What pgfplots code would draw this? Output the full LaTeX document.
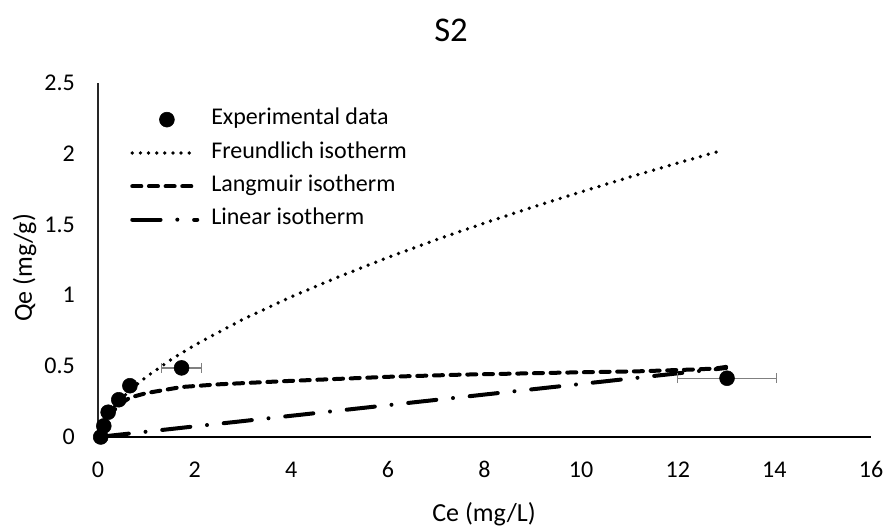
\documentclass[border=0pt]{standalone}
\usepackage{fontspec}
\setmainfont{Carlito}
\usepackage{pgfplots}
\pgfplotsset{compat=1.18}

\definecolor{errgray}{HTML}{808080}

% legend samples: a 48.75pt stroke for the fits, a single mark for the data
\pgfplotsset{
  linelegend/.style={legend image code/.code={\draw[##1] (0pt,0pt) -- (48.75pt,0pt);}},
  marklegend/.style={legend image code/.code={\draw[##1] plot coordinates {(26pt,0pt)};}},
}

\begin{document}
\begin{tikzpicture}
\path[use as bounding box] (0,0) rectangle (664.5pt,395.25pt);

% chart title and axis titles
\node[font=\fontsize{26}{30}\selectfont, anchor=base] at (338.25pt,363.75pt) {S2};
\node[font=\fontsize{19.5}{23}\selectfont, anchor=base] at (363pt,3.9pt) {Ce (mg/L)};
\node[font=\fontsize{19.5}{23}\selectfont, anchor=base, rotate=90] at (24pt,194.25pt) {Qe (mg/g)};

\begin{axis}[
  at={(73.5pt,67.5pt)}, anchor=south west,
  scale only axis, width=579.75pt, height=265.5pt,
  xmin=0, xmax=16, ymin=0, ymax=2.5,
  xtick={0,2,...,16}, ytick={0,0.5,1,1.5,2,2.5},
  axis x line=bottom, axis y line=left,
  x axis line style={-, black, line width=1.3pt},
  y axis line style={-, black!85, line width=0.8pt},
  major tick length=0pt, tick style={draw=none},
  /pgf/number format/assume math mode=true,
  ticklabel style={font=\fontsize{18}{21}\selectfont},
  xticklabel style={anchor=base, yshift=-30.4pt},
  yticklabel style={anchor=base east, inner sep=0pt, xshift=-17.25pt, yshift=-5.7pt},
  clip=false,
  legend cell align=left,
  legend style={draw=none, fill=none, at={(axis description cs:0.0414,0.9443)}, anchor=north west,
    inner sep=0pt, row sep=0pt, font=\fontsize{18}{21}\selectfont,
    nodes={inner xsep=0pt, inner ysep=3.5pt, text height=13pt, text depth=5pt},
    /tikz/every odd column/.append style={column sep=9pt}},
]

% legend entry for the measured points (drawn last, so they sit on top)
\addlegendimage{only marks, mark=*, mark size=5.6pt, black, marklegend}
\addlegendentry{Experimental data}

% Freundlich fit
\addplot[black, line width=2.8pt, line cap=round, dash pattern=on 0pt off 6.1pt, linelegend]
coordinates {
 (0.056,0.073) (0.1,0.104) (0.2,0.159) (0.4,0.243) (0.7,0.342) (1,0.425)
 (1.5,0.544) (2,0.649) (3,0.831) (4,0.990) (5,1.134) (6,1.268) (7,1.393)
 (8,1.511) (9,1.624) (10,1.731) (11,1.835) (12,1.935) (12.9,2.022)
};
\addlegendentry{Freundlich isotherm}

% Langmuir fit
\addplot[black, line width=3pt, line cap=round, dash pattern=on 6.8pt off 5.7pt, linelegend]
coordinates {
 (0.056,0.048) (0.12,0.093) (0.21,0.143) (0.43,0.225) (0.66,0.278) (1.0,0.310)
 (1.73,0.353) (2.5,0.372) (3.77,0.393) (4.6,0.405) (6,0.425) (7.49,0.440)
 (8.53,0.447) (9.98,0.457) (11.2,0.464) (12.27,0.476) (12.76,0.483) (13.0,0.495)
};
\addlegendentry{Langmuir isotherm}

% Linear fit
\addplot[black, line width=3pt, line cap=round, dash pattern=on 21.2pt off 12.6pt on 0pt off 12.6pt, linelegend]
coordinates {(0.056,0.002) (13.0,0.487)};
\addlegendentry{Linear isotherm}

% horizontal error bars
\addplot[forget plot, only marks, mark=none,
  error bars/.cd, x dir=both, x explicit,
  error bar style={draw=errgray, line width=1pt},
  error mark options={rotate=90, draw=errgray, mark size=3.75pt, line width=1pt}]
coordinates {(1.73,0.488) +- (0.41,0) (13.02,0.415) +- (1.02,0)};

% measured points
\addplot[forget plot, only marks, mark=*, mark size=5.6pt, black]
coordinates {(0.056,0) (0.12,0.078) (0.21,0.175) (0.43,0.263) (0.66,0.362) (1.73,0.488) (13.02,0.415)};

\end{axis}
\end{tikzpicture}
\end{document}
